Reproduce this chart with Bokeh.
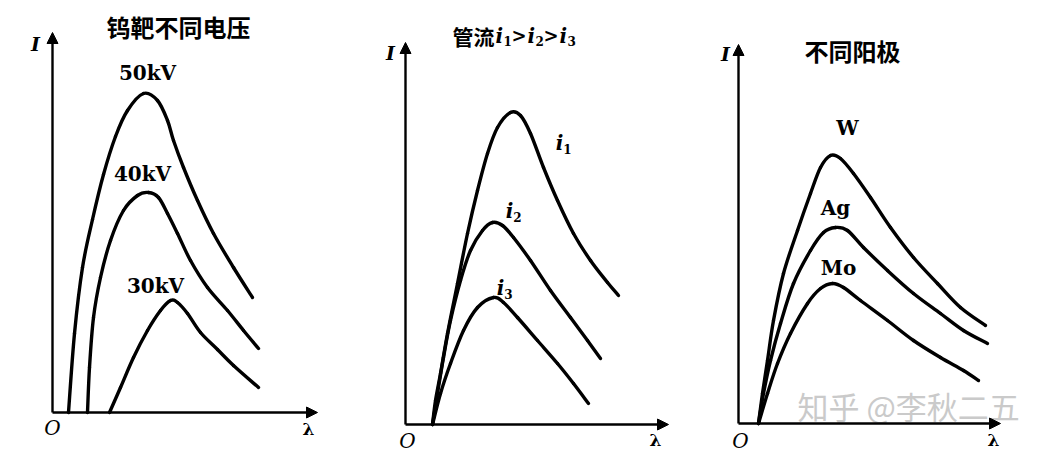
from bokeh.plotting import figure
from bokeh.layouts import row
from bokeh.models import Arrow, NormalHead
from bokeh.core.properties import value
from bokeh.embed import file_html
from bokeh.resources import INLINE

# ---------------- data (arbitrary units: wavelength λ, intensity I) ----------------
# Panel 1: tungsten target, different voltages
lam_50kv = [0.16, 0.22, 0.30, 0.40, 0.51, 0.63, 0.75, 0.91, 1.05, 1.15, 1.21, 1.31, 1.45, 1.61, 1.81, 2.00]
int_50kv = [0.00, 0.79, 1.45, 1.93, 2.38, 2.76, 3.02, 3.19, 3.12, 2.92, 2.72, 2.45, 2.12, 1.79, 1.45, 1.15]
lam_40kv = [0.35, 0.37, 0.41, 0.48, 0.58, 0.71, 0.85, 0.96, 1.06, 1.15, 1.25, 1.38, 1.55, 1.75, 1.91, 2.06]
int_40kv = [0.00, 0.45, 0.95, 1.35, 1.72, 2.02, 2.17, 2.20, 2.15, 1.99, 1.79, 1.52, 1.25, 1.02, 0.82, 0.64]
lam_30kv = [0.57, 0.68, 0.81, 0.95, 1.08, 1.18, 1.25, 1.35, 1.48, 1.65, 1.81, 2.06]
int_30kv = [0.00, 0.25, 0.55, 0.82, 1.02, 1.12, 1.10, 0.99, 0.80, 0.63, 0.47, 0.25]

# Panel 2: tube currents i1 > i2 > i3
lam_i1 = [0.27, 0.30, 0.35, 0.42, 0.52, 0.62, 0.72, 0.82, 0.92, 1.05, 1.15, 1.25, 1.38, 1.52, 1.68, 1.85, 2.02, 2.13]
int_i1 = [0.00, 0.24, 0.51, 0.91, 1.41, 1.91, 2.34, 2.71, 2.97, 3.12, 3.09, 2.91, 2.57, 2.24, 1.91, 1.64, 1.42, 1.29]
lam_i2 = [0.27, 0.32, 0.38, 0.45, 0.55, 0.65, 0.77, 0.87, 0.97, 1.08, 1.25, 1.45, 1.65, 1.82, 1.95]
int_i2 = [0.00, 0.31, 0.67, 1.04, 1.44, 1.74, 1.94, 2.02, 1.99, 1.87, 1.64, 1.34, 1.07, 0.84, 0.66]
lam_i3 = [0.27, 0.35, 0.45, 0.58, 0.72, 0.88, 0.98, 1.12, 1.32, 1.52, 1.68, 1.83]
int_i3 = [0.00, 0.31, 0.61, 0.94, 1.17, 1.27, 1.22, 1.07, 0.84, 0.61, 0.41, 0.21]

# Panel 3: different anodes
lam_w = [0.20, 0.24, 0.29, 0.35, 0.45, 0.59, 0.72, 0.82, 0.92, 1.02, 1.15, 1.32, 1.52, 1.75, 1.99, 2.22, 2.47]
int_w = [0.00, 0.30, 0.63, 1.03, 1.50, 1.93, 2.30, 2.56, 2.68, 2.65, 2.50, 2.26, 1.96, 1.66, 1.40, 1.16, 0.98]
lam_ag = [0.20, 0.25, 0.32, 0.42, 0.55, 0.72, 0.85, 0.97, 1.09, 1.25, 1.49, 1.75, 2.02, 2.25, 2.49]
int_ag = [0.00, 0.30, 0.63, 1.00, 1.40, 1.73, 1.91, 1.96, 1.93, 1.76, 1.53, 1.30, 1.10, 0.93, 0.80]
lam_mo = [0.20, 0.29, 0.39, 0.52, 0.69, 0.82, 0.94, 1.05, 1.22, 1.49, 1.75, 2.02, 2.25, 2.40]
int_mo = [0.00, 0.30, 0.60, 0.90, 1.20, 1.35, 1.40, 1.36, 1.23, 1.03, 0.83, 0.66, 0.53, 0.43]

titles = ["钨靶不同电压", "管流", "不同阳极"]
labels_p1 = ["50kV", "40kV", "30kV"]
labels_p3 = ["W", "Ag", "Mo"]
watermark = "知乎 @李秋二五"

SERIF = value("DejaVu Serif")
CJK = value("Noto Sans CJK SC")
H = 452
LW = 3.4


def smooth_curve(p, xs, ys):
    """Draw a smooth curve passing through every read point (Catmull-Rom as cubic Béziers)."""
    n = len(xs)
    x0, y0, x1, y1, cx0, cy0, cx1, cy1 = ([] for _ in range(8))
    for i in range(n - 1):
        im, ip2 = max(i - 1, 0), min(i + 2, n - 1)
        x0.append(xs[i]); y0.append(ys[i])
        x1.append(xs[i + 1]); y1.append(ys[i + 1])
        cx0.append(xs[i] + (xs[i + 1] - xs[im]) / 6.0)
        cy0.append(ys[i] + (ys[i + 1] - ys[im]) / 6.0)
        cx1.append(xs[i + 1] - (xs[ip2] - xs[i]) / 6.0)
        cy1.append(ys[i + 1] - (ys[ip2] - ys[i]) / 6.0)
    p.bezier(x0=x0, y0=y0, x1=x1, y1=y1, cx0=cx0, cy0=cy0, cx1=cx1, cy1=cy1,
             line_width=LW, line_color="black", line_cap="round")


def panel(width, xr, yr, ytop, xend):
    p = figure(width=width, height=H, x_range=xr, y_range=yr,
               output_backend="svg", toolbar_location=None, min_border=0,
               x_axis_type=None, y_axis_type=None)
    p.grid.visible = False
    p.outline_line_color = None
    p.background_fill_color = "white"
    p.border_fill_color = "white"
    for xe, ye in ((0, ytop), (xend, 0)):
        p.add_layout(Arrow(end=NormalHead(size=11, line_color="black", fill_color="black", line_width=1),
                           x_start=0, y_start=0, x_end=xe, y_end=ye,
                           line_width=2.4, line_color="black"))
    return p


def axis_letters(p, ix, iy, ox, oy, lx, ly):
    p.text([ix], [iy], text=["I"], text_font=SERIF, text_font_style="bold italic",
           text_font_size="19px", text_align="center", text_baseline="middle", text_color="black")
    p.text([ox], [oy], text=["O"], text_font=SERIF, text_font_style="italic",
           text_font_size="20px", text_align="center", text_baseline="middle", text_color="black")
    p.text([lx], [ly], text=["λ"], text_font=SERIF, text_font_style="bold",
           text_font_size="17px", text_align="center", text_baseline="middle", text_color="black")


# ---------------- panel 1 ----------------
p1 = panel(358, (-0.52, 3.06), (-0.40, 4.12), 3.80, 2.65)
smooth_curve(p1, lam_50kv, int_50kv)
smooth_curve(p1, lam_40kv, int_40kv)
smooth_curve(p1, lam_30kv, int_30kv)
p1.text([0.95, 0.90, 1.03], [3.40, 2.39, 1.27], text=labels_p1, text_font=SERIF,
        text_font_style="bold", text_font_size="20px", text_align="center",
        text_baseline="middle", text_color="black")
p1.text([1.26], [3.86], text=[titles[0]], text_font=CJK, text_font_style="bold",
        text_font_size="24px", text_align="center", text_baseline="middle", text_color="black")
axis_letters(p1, -0.17, 3.69, 0.0, -0.15, 2.56, -0.16)

# ---------------- panel 2 ----------------
p2 = panel(350, (-0.47, 3.03), (-0.28, 4.24), 3.82, 2.63)
smooth_curve(p2, lam_i1, int_i1)
smooth_curve(p2, lam_i2, int_i2)
smooth_curve(p2, lam_i3, int_i3)
# curve labels i1, i2, i3
p2.text([1.57, 1.07, 0.98], [2.82, 2.14, 1.37], text=["i", "i", "i"], text_font=SERIF,
        text_font_style="bold italic", text_font_size="20px", text_align="center",
        text_baseline="middle", text_color="black", x_offset=-3)
p2.text([1.57, 1.07, 0.98], [2.82, 2.14, 1.37], text=["1", "2", "3"], text_font=SERIF,
        text_font_style="bold", text_font_size="12px", text_align="center",
        text_baseline="middle", text_color="black", x_offset=5, y_offset=6)
# title: 管流 i1 > i2 > i3
p2.text([0.47], [3.89], text=[titles[1]], text_font=CJK, text_font_style="bold",
        text_font_size="21px", text_align="left", text_baseline="middle", text_color="black")
p2.text([0.47] * 3, [3.89] * 3, text=["i", "i", "i"], text_font=SERIF, text_font_style="bold italic",
        text_font_size="20px", text_align="left", text_baseline="middle", text_color="black",
        x_offset=[43, 75, 107])
p2.text([0.47] * 3, [3.89] * 3, text=["1", "2", "3"], text_font=SERIF, text_font_style="bold",
        text_font_size="12px", text_align="left", text_baseline="middle", text_color="black",
        x_offset=[51, 83, 115], y_offset=[5, 5, 5])
p2.text([0.47] * 2, [3.89] * 2, text=[">", ">"], text_font=SERIF, text_font_style="bold",
        text_font_size="18px", text_align="left", text_baseline="middle", text_color="black",
        x_offset=[59, 91])
axis_letters(p2, -0.15, 3.72, 0.02, -0.16, 2.50, -0.155)

# ---------------- panel 3 ----------------
p3 = panel(342, (-0.30, 3.12), (-0.29, 4.23), 3.79, 2.62)
p3.text([0.59], [0.18], text=[watermark], text_font=CJK, text_font_size="31px",
        text_align="left", text_baseline="middle", text_color="#cacaca")
smooth_curve(p3, lam_w, int_w)
smooth_curve(p3, lam_ag, int_ag)
smooth_curve(p3, lam_mo, int_mo)
p3.text([1.09, 0.97, 1.00], [2.96, 2.16, 1.56], text=labels_p3, text_font=SERIF,
        text_font_style="bold", text_font_size="20px", text_align="center",
        text_baseline="middle", text_color="black")
p3.text([1.14], [3.73], text=[titles[2]], text_font=CJK, text_font_style="bold",
        text_font_size="24px", text_align="center", text_baseline="middle", text_color="black")
axis_letters(p3, -0.13, 3.70, 0.02, -0.17, 2.55, -0.165)

layout = row(p1, p2, p3)
open("out.html", "w").write(file_html(layout, INLINE))
